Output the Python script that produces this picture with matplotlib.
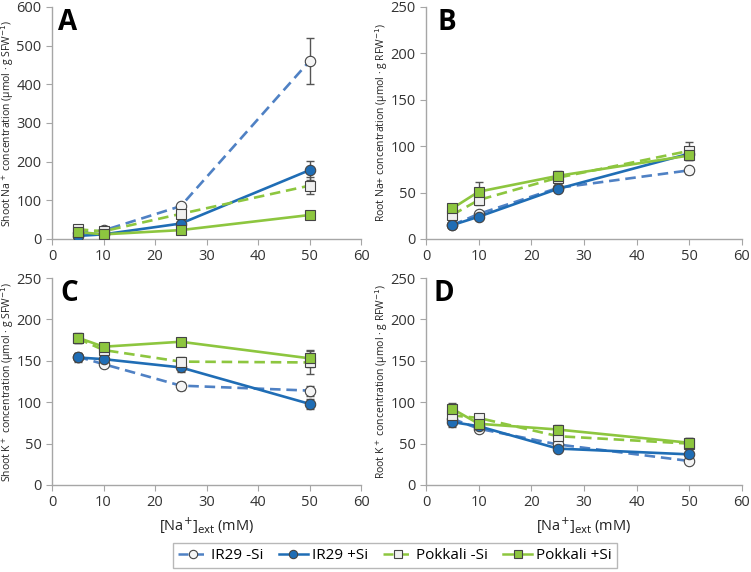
import matplotlib
matplotlib.use("Agg")
import matplotlib.pyplot as plt
from matplotlib.lines import Line2D

plt.rcParams['font.family'] = ['Open Sans', 'DejaVu Sans']

x = [5, 10, 25, 50]
series_names = ["IR29 -Si", "IR29 +Si", "Pokkali -Si", "Pokkali +Si"]

# Panel A: Shoot Na+
A_ir29_m = [15, 22, 85, 460]
A_ir29_m_err = [4, 4, 6, 60]
A_ir29_p = [8, 12, 40, 178]
A_ir29_p_err = [3, 3, 6, 25]
A_pok_m = [25, 20, 65, 138]
A_pok_m_err = [4, 4, 6, 22]
A_pok_p = [18, 12, 23, 62]
A_pok_p_err = [3, 3, 4, 6]

# Panel B: Root Na+
B_ir29_m = [15, 27, 55, 74]
B_ir29_m_err = [1, 2, 3, 4]
B_ir29_p = [15, 24, 54, 92]
B_ir29_p_err = [1, 2, 3, 5]
B_pok_m = [26, 42, 66, 95]
B_pok_m_err = [3, 5, 5, 10]
B_pok_p = [33, 51, 68, 90]
B_pok_p_err = [3, 10, 5, 5]

# Panel C: Shoot K+
C_ir29_m = [155, 146, 120, 114]
C_ir29_m_err = [4, 4, 5, 6]
C_ir29_p = [154, 152, 142, 98]
C_ir29_p_err = [5, 4, 6, 6]
C_pok_m = [177, 163, 149, 148]
C_pok_m_err = [5, 5, 5, 14]
C_pok_p = [178, 167, 173, 153]
C_pok_p_err = [6, 5, 5, 10]

# Panel D: Root K+
D_ir29_m = [80, 68, 49, 29]
D_ir29_m_err = [4, 4, 3, 3]
D_ir29_p = [76, 71, 44, 37]
D_ir29_p_err = [6, 4, 3, 3]
D_pok_m = [84, 81, 59, 50]
D_pok_m_err = [5, 4, 5, 7]
D_pok_p = [92, 74, 67, 51]
D_pok_p_err = [7, 4, 6, 6]

blue_d = '#4f81c4'
blue_s = '#1f6db5'
green = '#8dc63f'
edge = '#444444'

styles = [
    dict(color=blue_d, ls=(0, (4, 2.2)), marker='o', mfc='#f5f5f5', ms=7.5),
    dict(color=blue_s, ls='-', marker='o', mfc=blue_s, ms=7.5),
    dict(color=green, ls=(0, (4, 2.2)), marker='s', mfc='#f0f0f0', ms=7.5),
    dict(color=green, ls='-', marker='s', mfc=green, ms=7.5),
]

fig = plt.figure(figsize=(7.51, 5.72), dpi=100)
W, H = 751, 572

def ax_at(l, r, t, b):
    return fig.add_axes([l / W, 1 - b / H, (r - l) / W, (b - t) / H])

panels = [
    (ax_at(52, 361, 7, 239), "A", 600, 100, "Shoot Na$^+$ concentration (µmol · g SFW$^{-1}$)",
     [(A_ir29_m, A_ir29_m_err), (A_ir29_p, A_ir29_p_err), (A_pok_m, A_pok_m_err), (A_pok_p, A_pok_p_err)], False, 6, 16),
    (ax_at(426, 742, 7, 239), "B", 250, 50, "Root Na+ concentration (µmol · g RFW$^{-1}$)",
     [(B_ir29_m, B_ir29_m_err), (B_ir29_p, B_ir29_p_err), (B_pok_m, B_pok_m_err), (B_pok_p, B_pok_p_err)], False, 11, 390),
    (ax_at(52, 361, 278, 485), "C", 250, 50, "Shoot K$^+$ concentration (µmol · g SFW$^{-1}$)",
     [(C_ir29_m, C_ir29_m_err), (C_ir29_p, C_ir29_p_err), (C_pok_m, C_pok_m_err), (C_pok_p, C_pok_p_err)], True, 8, 16),
    (ax_at(426, 742, 278, 485), "D", 250, 50, "Root K$^+$ concentration (µmol · g RFW$^{-1}$)",
     [(D_ir29_m, D_ir29_m_err), (D_ir29_p, D_ir29_p_err), (D_pok_m, D_pok_m_err), (D_pok_p, D_pok_p_err)], True, 7, 390),
]

for ax, letter, ymax, ystep, ylabel, data, xlab, loff, lab_x in panels:
    for (vals, errs), st in zip(data, styles):
        ax.errorbar(x, vals, yerr=errs, fmt='none', ecolor='#555555', elinewidth=1, capsize=3, capthick=1, zorder=2)
        ax.plot(x, vals, color=st['color'], ls=st['ls'], lw=1.9, zorder=3)
        ax.plot(x, vals, ls='none', marker=st['marker'], mfc=st['mfc'], mec=edge, mew=0.8, ms=st['ms'], zorder=4)
    ax.set_xlim(0, 60)
    ax.set_ylim(0, ymax)
    ax.set_xticks(range(0, 61, 10))
    ax.set_yticks(range(0, ymax + 1, ystep))
    for s in ['top', 'right']:
        ax.spines[s].set_visible(False)
    for s in ['left', 'bottom']:
        ax.spines[s].set_color('#a6a6a6')
        ax.spines[s].set_linewidth(1)
    ax.tick_params(axis='both', colors='#a6a6a6', labelcolor='#333333', labelsize=10.5, length=4, direction='out')
    ax.set_ylabel(ylabel, fontsize=7.5, color='#222222')
    bb = ax.get_position()
    ax.yaxis.set_label_coords((lab_x - bb.x0 * W) / (bb.width * W), 0.5)
    ax.text(loff / (bb.width * W), 0.995, letter, transform=ax.transAxes, fontsize=20, fontweight='bold',
            va='top', ha='left', color='black')
    if xlab:
        ax.set_xlabel("[Na$^{+}$]$_{\\rm ext}$ (mM)", fontsize=10.5, color='#222222', labelpad=4)

handles = [Line2D([0], [0], color=st['color'], ls=st['ls'], lw=1.8, marker=st['marker'], mfc=st['mfc'],
                  mec=edge, mew=0.8, ms=6) for st in styles]
leg = fig.legend(handles, series_names, loc='center', bbox_to_anchor=(395 / W, 1 - 555.5 / H), ncol=4,
                 frameon=True, fontsize=11, handlelength=1.9, columnspacing=1.0, handletextpad=0.25,
                 fancybox=False, borderpad=0.35)
leg.get_frame().set_edgecolor('#a6a6a6')
leg.get_frame().set_linewidth(1)

fig.savefig("out.png", dpi=100)
